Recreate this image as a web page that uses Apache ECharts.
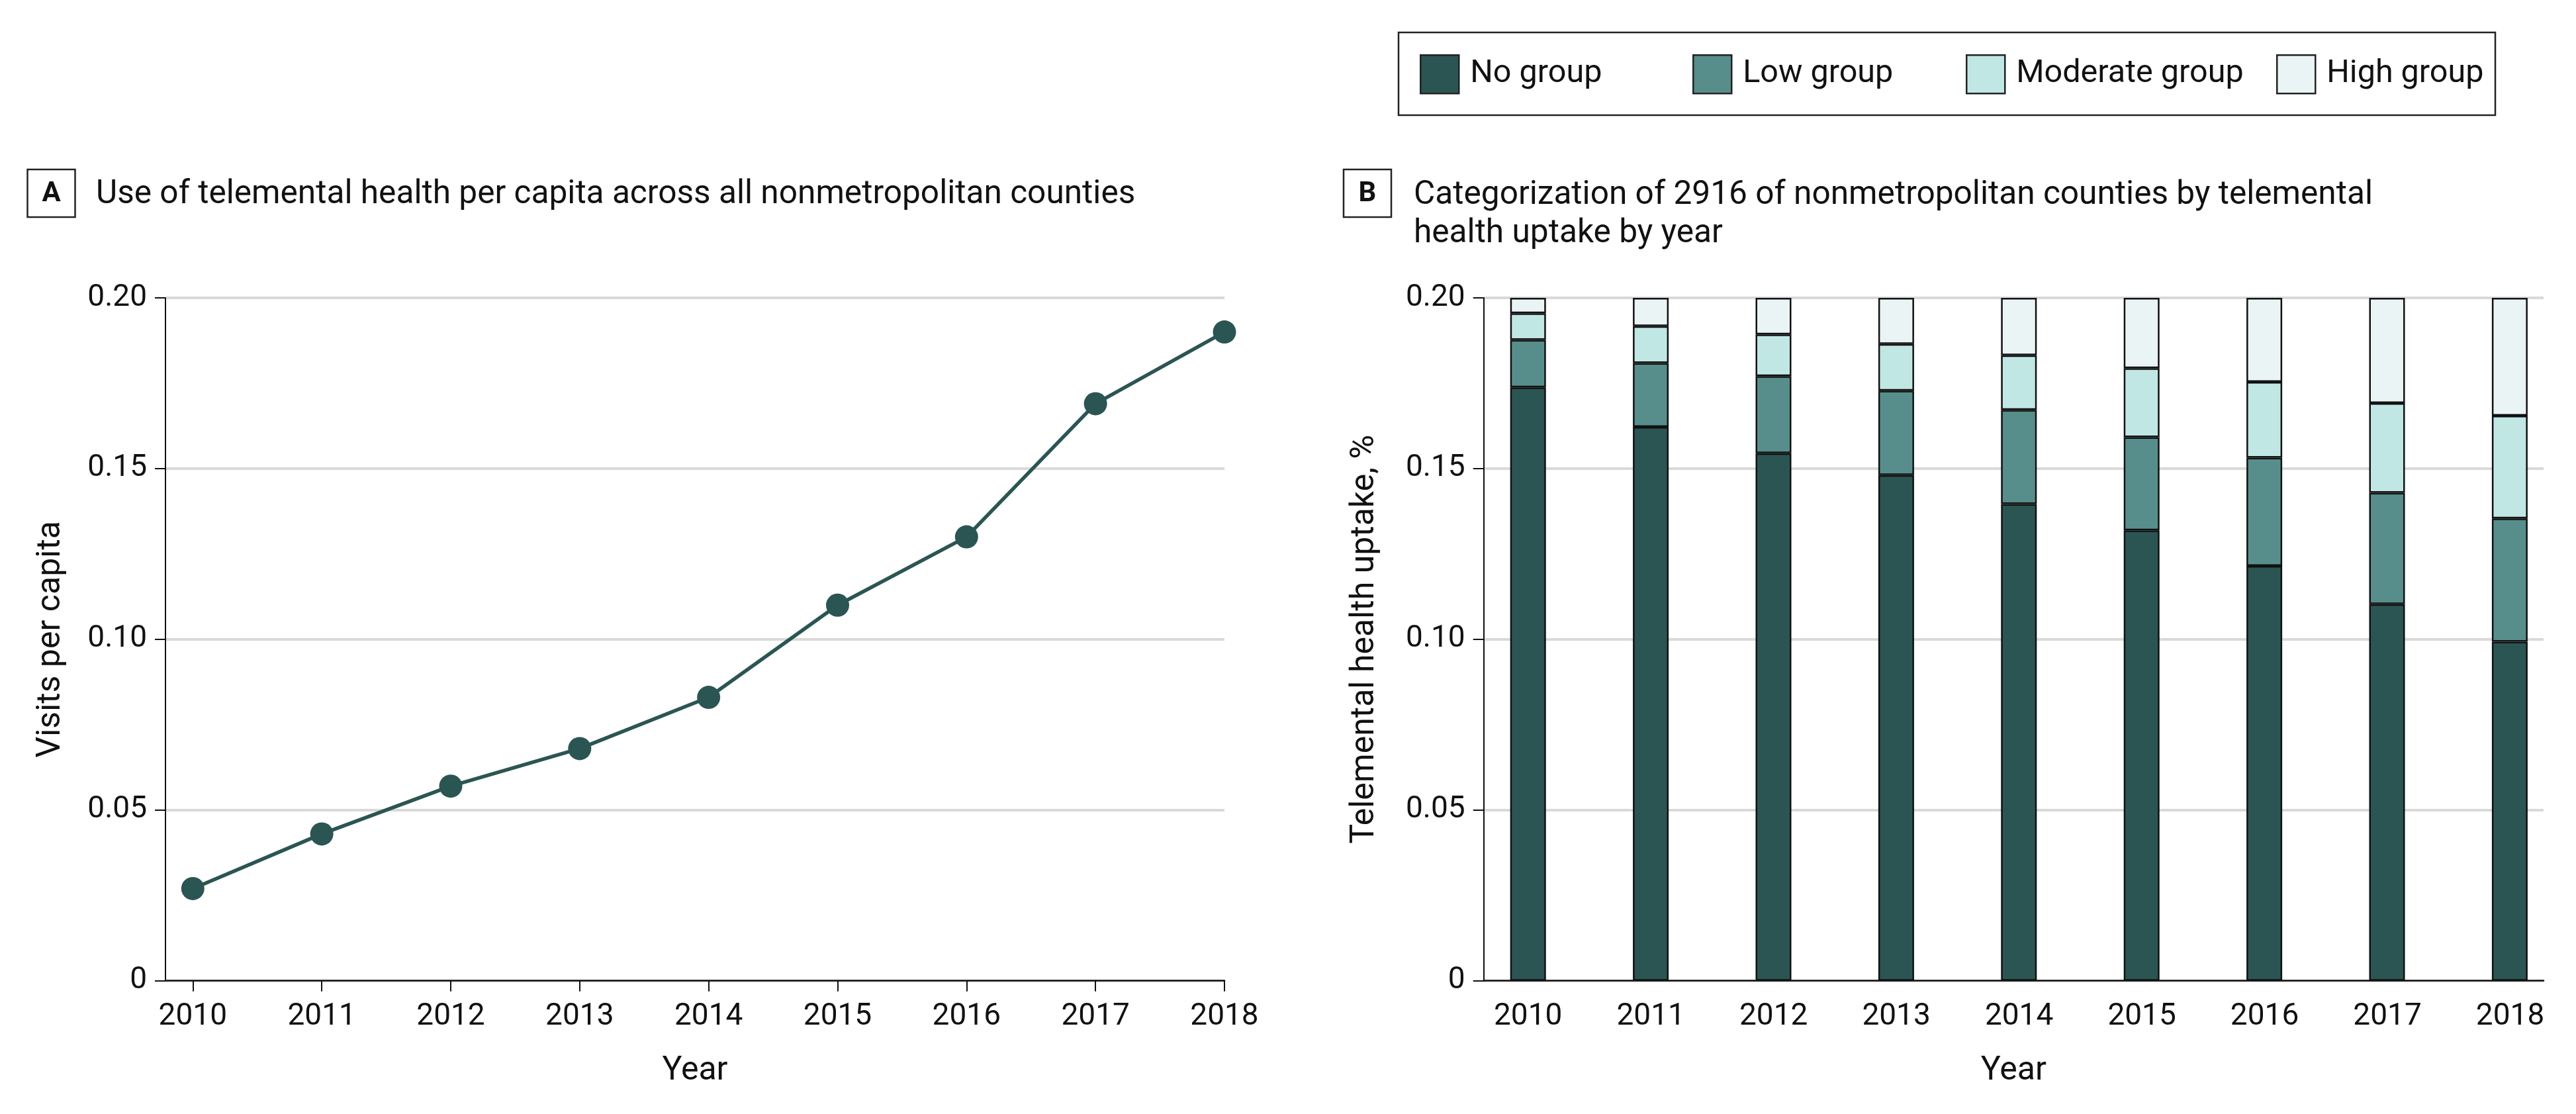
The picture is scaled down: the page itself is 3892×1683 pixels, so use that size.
<!DOCTYPE html>
<html>
<head>
<meta charset="utf-8">
<script src="https://cdn.jsdelivr.net/npm/echarts@6/dist/echarts.min.js"></script>
<style>
html,body{margin:0;padding:0;background:#fff;}
#chart{width:3892px;height:1683px;}
</style>
</head>
<body>
<div id="chart"></div>
<script>
// ---- data ----
const years = [2010, 2011, 2012, 2013, 2014, 2015, 2016, 2017, 2018];
const visitsPerCapita = [0.027, 0.043, 0.057, 0.068, 0.083, 0.110, 0.130, 0.169, 0.190];
const noGroup = [0.1738, 0.1622, 0.1545, 0.1481, 0.1396, 0.1319, 0.1215, 0.1103, 0.0993];
const lowGroup = [0.0139, 0.0187, 0.0226, 0.0247, 0.0276, 0.0273, 0.0317, 0.0326, 0.0361];
const moderateGroup = [0.0078, 0.0108, 0.0122, 0.0137, 0.0160, 0.0202, 0.0222, 0.0263, 0.0301];
const highGroup = [0.0045, 0.0083, 0.0107, 0.0135, 0.0168, 0.0206, 0.0246, 0.0308, 0.0345];
const seriesNames = ['No group', 'Low group', 'Moderate group', 'High group'];
const titleA = 'Use of telemental health per capita across all nonmetropolitan counties';
const titleB = 'Categorization of 2916 of nonmetropolitan counties by telemental\nhealth uptake by year';

// ---- style ----
const FONT = 'Roboto, "Open Sans", sans-serif';
const colors = ['#2b5553', '#578e8b', '#c1e7e5', '#ebf4f5'];
const gridLineColor = '#d9d9d9';

const chart = echarts.init(document.getElementById('chart'), null, {renderer: 'canvas'});

function pairs(vals) { return years.map((y, i) => [y, vals[i]]); }
const yFmt = v => (v === 0 ? '0' : v.toFixed(2));
const xFmt = v => (Number.isInteger(v) ? String(v) : '');

function xAxisCfg(gridIndex, min, max, ticks) {
  return {
    type: 'value', gridIndex, min, max, minInterval: 1, maxInterval: 1,
    name: 'Year', nameLocation: 'middle', nameGap: 112,
    nameTextStyle: {fontFamily: FONT, fontSize: 50, color: '#111'},
    axisLine: {show: true, lineStyle: {color: '#111', width: 2.5}},
    axisTick: {show: ticks, length: 16, lineStyle: {color: '#111', width: 2}, customValues: years},
    axisLabel: {fontFamily: FONT, fontSize: 46, color: '#111', margin: 32, formatter: xFmt, customValues: years},
    splitLine: {show: false}
  };
}
function yAxisCfg(gridIndex, name, gap) {
  return {
    type: 'value', gridIndex, min: 0, max: 0.2, interval: 0.05,
    name, nameLocation: 'middle', nameGap: gap,
    nameTextStyle: {fontFamily: FONT, fontSize: 50, color: '#111'},
    axisLine: {show: true, lineStyle: {color: '#111', width: 2}},
    axisTick: {show: true, length: 16, lineStyle: {color: '#111', width: 2}},
    axisLabel: {fontFamily: FONT, fontSize: 46, color: '#111', margin: 28, formatter: yFmt},
    splitLine: {show: true, lineStyle: {color: gridLineColor, width: 4}}
  };
}

const barData = [noGroup, lowGroup, moderateGroup, highGroup];

const legends = [2145, 2557, 2970, 3439].map((left, i) => ({
  data: [seriesNames[i]], left, top: 82, orient: 'horizontal', padding: 0,
  itemWidth: 58, itemHeight: 58, icon: 'rect', selectedMode: false,
  itemStyle: {borderColor: '#222', borderWidth: 2.5},
  textStyle: {fontFamily: FONT, fontSize: 48.5, color: '#111', padding: [0, 0, 0, 12]}
}));

function boxLetter(x, y, letter) {
  return [
    {type: 'rect', shape: {x, y, width: 72, height: 72}, style: {fill: '#fff', stroke: '#222', lineWidth: 2.5}},
    {type: 'text', x: x + 36, y: y + 37, style: {text: letter, fill: '#111', fontFamily: FONT, fontSize: 42, fontWeight: 'bold', align: 'center', verticalAlign: 'middle', textAlign: 'center', textVerticalAlign: 'middle'}}
  ];
}

const option = {
  backgroundColor: '#fff',
  animation: false,
  legend: legends,
  grid: [
    {left: 250, top: 450, width: 1600, height: 1031.7, containLabel: false},
    {left: 2241.7, top: 450, width: 1601.3, height: 1031.7, containLabel: false},
    // band grid used to place the stacked bars (9 bands of 185.4 px)
    {left: 2216, top: 450, width: 1668.6, height: 1031.7, containLabel: false}
  ],
  xAxis: [
    xAxisCfg(0, 2009.788, 2018, true),
    xAxisCfg(1, 2009.639, 2018.272, false),
    {type: 'category', gridIndex: 2, data: years.map(String), boundaryGap: true, show: false}
  ],
  yAxis: [
    yAxisCfg(0, 'Visits per capita', 148),
    yAxisCfg(1, 'Telemental health uptake, %', 154),
    {type: 'value', gridIndex: 2, min: 0, max: 0.2, show: false, splitLine: {show: false}}
  ],
  series: [
    {
      type: 'line', xAxisIndex: 0, yAxisIndex: 0, data: pairs(visitsPerCapita),
      symbol: 'circle', symbolSize: 35, showSymbol: true,
      lineStyle: {color: colors[0], width: 5.5}, itemStyle: {color: colors[0]}, z: 3
    },
    ...seriesNames.map((name, i) => ({
      type: 'bar', name, xAxisIndex: 2, yAxisIndex: 2, stack: 'uptake', barWidth: 54,
      data: barData[i],
      itemStyle: {color: colors[i], borderColor: '#111', borderWidth: 2.5}
    }))
  ],
  graphic: [
    {type: 'rect', shape: {x: 2113, y: 49, width: 1657, height: 125}, style: {fill: 'none', stroke: '#222', lineWidth: 2.5}},
    ...boxLetter(41.5, 256, 'A'),
    ...boxLetter(2030, 256, 'B'),
    {type: 'text', x: 145, y: 294.5, style: {text: titleA, fill: '#111', fontFamily: FONT, fontSize: 49.6, verticalAlign: 'middle', textVerticalAlign: 'middle'}},
    {type: 'text', x: 2136, y: 296 - 29, style: {text: titleB, fill: '#111', fontFamily: FONT, fontSize: 49.6, lineHeight: 58, verticalAlign: 'top', textVerticalAlign: 'top'}}
  ]
};
chart.setOption(option);
</script>
</body>
</html>
